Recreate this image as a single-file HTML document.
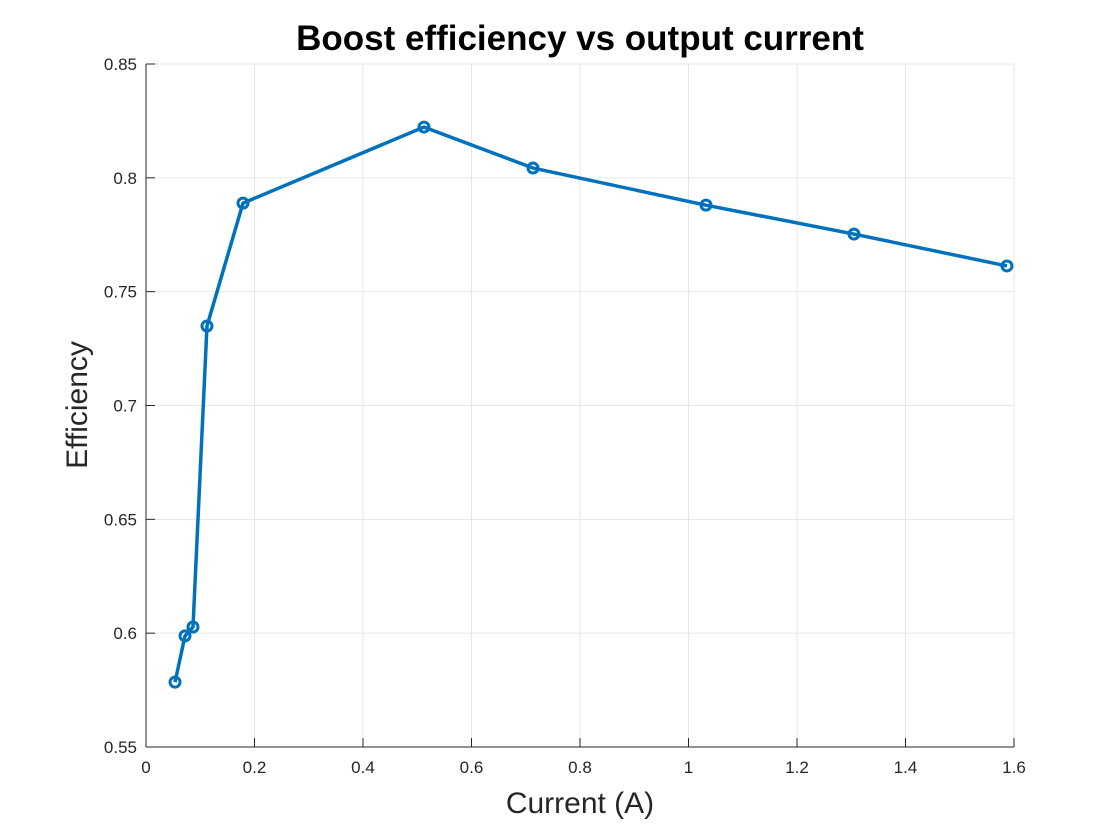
<!DOCTYPE html>
<html><head><meta charset="utf-8"><style>
body{margin:0;background:#fff;font-family:"Liberation Sans",Arial,sans-serif}
svg{display:block}
</style></head><body>
<svg id="chart" width="1120" height="840" xmlns="http://www.w3.org/2000/svg">
<text x="580" y="50" text-anchor="middle" font-size="35" font-weight="bold" fill="#000">Boost efficiency vs output current</text>
<g id="grid"></g><g id="axes"></g><g id="series"></g>
<text x="580" y="813" text-anchor="middle" font-size="30" fill="#262626">Current (A)</text>
<text transform="translate(87,405) rotate(-90)" text-anchor="middle" font-size="30" fill="#262626">Efficiency</text>
</svg>
<script>
const current=[0.0535,0.0719,0.0866,0.1124,0.1788,0.5124,0.7134,1.0323,1.305,1.587];
const efficiency=[0.5785,0.5988,0.6027,0.7349,0.7889,0.8223,0.8043,0.7880,0.7753,0.7613];
const xTicks=[0,0.2,0.4,0.6,0.8,1,1.2,1.4,1.6];
const xTickLabels=["0","0.2","0.4","0.6","0.8","1","1.2","1.4","1.6"];
const yTicks=[0.55,0.6,0.65,0.7,0.75,0.8,0.85];
const yTickLabels=["0.55","0.6","0.65","0.7","0.75","0.8","0.85"];
const L=146,R=1014,T=64,B=747;
const xs=v=>L+(v-0)/(1.6-0)*(R-L);
const ys=v=>B-(v-0.55)/(0.85-0.55)*(B-T);
const NS="http://www.w3.org/2000/svg";
function mk(tag,attrs,parent){const e=document.createElementNS(NS,tag);for(const k in attrs)e.setAttribute(k,attrs[k]);parent.appendChild(e);return e;}
const grid=document.getElementById('grid'),axes=document.getElementById('axes'),series=document.getElementById('series');
xTicks.forEach((t,i)=>{const x=xs(t);
 const g=mk('line',{x1:x,x2:x,y1:T,y2:B,stroke:'#e6e6e6','stroke-width':1},grid);
 
 
 const tk=mk('line',{x1:x,x2:x,y1:B,y2:B-9,stroke:'#262626','stroke-width':1},axes);
 
 
 const tl=mk('text',{x:x,y:B+26,'text-anchor':'middle','font-size':17,fill:'#262626'},axes);tl.textContent=xTickLabels[i];
 
 
});
yTicks.forEach((t,i)=>{const y=ys(t);
 const g=mk('line',{x1:L,x2:R,y1:y,y2:y,stroke:'#e6e6e6','stroke-width':1},grid);
 
 
 const tk=mk('line',{x1:L,x2:L+9,y1:y,y2:y,stroke:'#262626','stroke-width':1},axes);
 
 
 const tl=mk('text',{x:L-9,y:y+6,'text-anchor':'end','font-size':17,fill:'#262626'},axes);tl.textContent=yTickLabels[i];
 
 
});
const xa=mk('line',{x1:L,x2:R,y1:B,y2:B,stroke:'#262626','stroke-width':1},axes);


const ya=mk('line',{x1:L,x2:L,y1:T,y2:B,stroke:'#262626','stroke-width':1},axes);


const pts=current.map((c,i)=>xs(c)+','+ys(efficiency[i])).join(' ');
const pl=mk('polyline',{points:pts,fill:'none',stroke:'#0072BD','stroke-width':3.5,'stroke-linejoin':'round'},series);


current.forEach((c,i)=>{
 const m=mk('circle',{cx:xs(c),cy:ys(efficiency[i]),r:5,fill:'none',stroke:'#0072BD','stroke-width':3},series);
 
 
});
</script>
</body></html>
